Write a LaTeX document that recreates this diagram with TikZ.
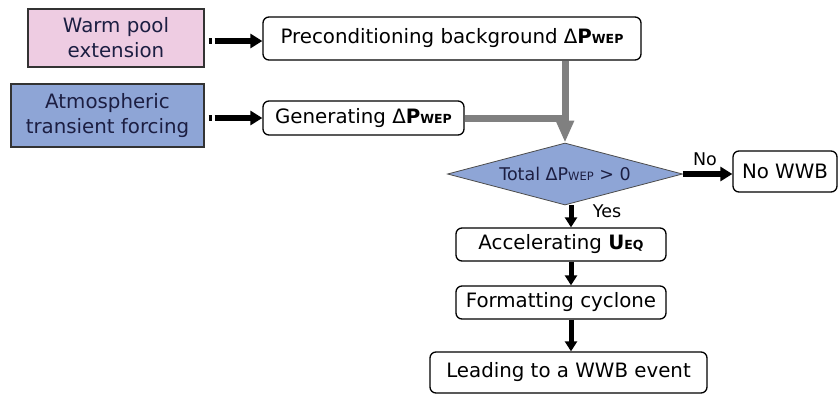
\documentclass[tikz,border=0pt]{standalone}
\usepackage{fontspec}
\setmainfont{DejaVu Sans}
\usetikzlibrary{shapes.geometric,arrows.meta,calc}
\definecolor{pinkfill}{RGB}{238,204,226}
\definecolor{bluefill}{RGB}{142,165,214}
\definecolor{navy}{RGB}{28,30,66}
\definecolor{greyarrow}{RGB}{128,128,128}
\newcommand{\Pwepb}{\textbf{P}{\fontsize{12.5}{13}\selectfont\bfseries WEP}}
\newcommand{\Pwepr}{P{\fontsize{11.5}{12}\selectfont WEP}}
\tikzset{
  srcbox/.style={draw=black!80, line width=1.2pt, inner sep=0pt, align=center, text=navy, font=\fontsize{19.8}{25}\selectfont},
  stepbox/.style={draw=black, line width=1.3pt, rounded corners=6pt, inner sep=0pt, align=center, font=\fontsize{19.8}{24}\selectfont},
  blackarrow/.style={line width=6pt, -{Triangle[width=14pt,length=12pt]}},
  downarrow/.style={line width=5pt, -{Triangle[width=12pt,length=10pt]}},
  greyline/.style={draw=greyarrow, line width=7pt},
  lbl/.style={font=\fontsize{17.5}{19}\selectfont, inner sep=0pt}
}
\begin{document}
\begin{tikzpicture}[x=1pt,y=-1pt]
\useasboundingbox (0,0) rectangle (840,394);
% source boxes
\node[srcbox, fill=pinkfill, minimum width=176pt, minimum height=58pt] (warm) at (116,38) {Warm pool\\extension};
\node[srcbox, fill=bluefill, minimum width=193pt, minimum height=63pt] (atm) at (107.5,115.5) {Atmospheric\\transient forcing};
% step boxes
\node[stepbox, minimum width=378pt, minimum height=43pt] (pre) at (452,38.5) {Preconditioning background Δ\Pwepb};
\node[stepbox, minimum width=201pt, minimum height=34pt] (gen) at (363.5,118) {Generating Δ\Pwepb};
\node[diamond, draw=black!70, line width=0.8pt, fill=bluefill, inner sep=0pt, minimum width=235pt, minimum height=62pt,
  label={[text=navy, font=\fontsize{17.5}{20}\selectfont, inner sep=0pt]center:Total Δ\Pwepr{} > 0}] (dia) at (565,174) {};
\node[stepbox, minimum width=104pt, minimum height=41pt] (nowwb) at (785,171.5) {No WWB};
\node[stepbox, minimum width=210pt, minimum height=33pt] (acc) at (561,244.5) {Accelerating \textbf{U}{\fontsize{12.5}{13}\selectfont\bfseries EQ}};
\node[stepbox, minimum width=210pt, minimum height=33pt] (form) at (561,302.5) {Formatting cyclone};
\node[stepbox, minimum width=277pt, minimum height=41pt] (lead) at (568.5,372.5) {Leading to a WWB event};
% input arrows
\draw[line width=6pt] ($(warm.east)+(4,3)$) -- ($(warm.east)+(7,3)$);
\draw[blackarrow] ($(warm.east)+(10,3)$) -- (pre.west |- {$(warm.east)+(10,3)$});
\draw[line width=6pt] ($(atm.east |- gen.west)+(4,0)$) -- ($(atm.east |- gen.west)+(7,0)$);
\draw[blackarrow] ($(atm.east |- gen.west)+(10,0)$) -- (gen.west);
% grey merge arrows
\draw[greyline] (gen.east) -- (dia.north |- gen.east);
\draw[greyline, -{Triangle[width=17pt,length=22pt]}] (dia.north |- pre.south) -- (dia.north);
% decision
\coordinate (spine) at (571,0);
\draw[blackarrow] (dia.east) -- (nowwb.west |- dia.east);
\node[lbl] (no) at (705,159) {No};
\draw[downarrow] (spine |- dia.south) -- (spine |- acc.north);
\node[lbl] (yes) at (607,211) {Yes};
\draw[downarrow] (spine |- acc.south) -- (spine |- form.north);
\draw[downarrow] (spine |- form.south) -- (spine |- lead.north);
\end{tikzpicture}
\end{document}
